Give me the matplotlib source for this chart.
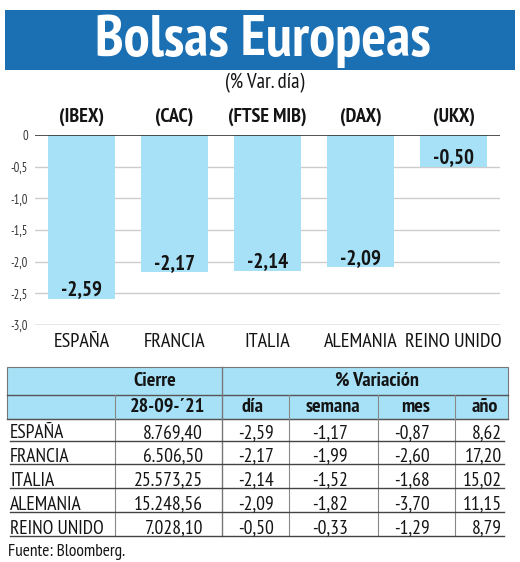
import matplotlib
matplotlib.use('Agg')
import matplotlib.pyplot as plt
from matplotlib.patches import Rectangle

# - Datos del gráfico (variación diaria %)
paises = ['ESPAÑA', 'FRANCIA', 'ITALIA', 'ALEMANIA', 'REINO UNIDO']
indices = ['(IBEX)', '(CAC)', '(FTSE MIB)', '(DAX)', '(UKX)']
var_dia = [-2.59, -2.17, -2.14, -2.09, -0.50]

# - Datos de la tabla
cierre = ['8.769,40', '6.506,50', '25.573,25', '15.248,56', '7.028,10']
var_semana = [-1.17, -1.99, -1.52, -1.82, -0.33]
var_mes = [-0.87, -2.60, -1.68, -3.70, -1.29]
var_anio = [8.62, 17.20, 15.02, 11.15, 8.79]

yticks = [0, -0.5, -1.0, -1.5, -2.0, -2.5, -3.0]

AZUL = '#1b6fb3'
CELESTE = '#a6e1f7'
TINTA = '#141414'

# - Fuente estrecha (tipo Myriad Condensed)
plt.rcParams['font.family'] = ['PT Sans Narrow', 'DejaVu Sans']


def coma(v, dec=2):
    return f'{v:.{dec}f}'.replace('.', ',')


W, H = 520, 562
fig = plt.figure(figsize=(W / 100, H / 100), dpi=100)

# - Capa de fondo en píxeles para cabecera y tabla
bg = fig.add_axes([0, 0, 1, 1])
bg.set_xlim(0, W)
bg.set_ylim(H, 0)
bg.axis('off')

bg.add_patch(Rectangle((5, 10), 510, 60, color=AZUL, lw=0))
bg.text(263, 41, 'Bolsas Europeas', color='white', fontsize=42, fontweight='bold',
        ha='center', va='center')
bg.text(265, 83, '(% Var. día)', fontsize=15, color=TINTA, ha='center', va='center')

# - Gráfico de barras
ax = fig.add_axes([35 / W, 1 - 325 / H, 465 / W, 190 / H])
x = list(range(len(paises)))
ax.bar(x, var_dia, width=0.72, color=CELESTE, zorder=2)
ax.set_xlim(-0.5, 4.5)
ax.set_ylim(-3.0, 0)
ax.set_yticks(yticks)
ax.set_yticklabels([coma(v, 1) if v != 0 else '0' for v in yticks], fontsize=9, color='#333333')
ax.set_xticks(x)
ax.set_xticklabels(paises, fontsize=14.5, color=TINTA)
ax.tick_params(axis='both', length=0)
ax.tick_params(axis='x', pad=6)
ax.tick_params(axis='y', pad=5)
for s in ['left', 'right', 'top', 'bottom']:
    ax.spines[s].set_visible(False)
for v in yticks:
    if v == 0:
        ax.axhline(v, color='#333333', lw=1.2, zorder=3)
    elif v == -3.0:
        ax.axhline(v, color='#888888', lw=1, zorder=1)
    else:
        ax.axhline(v, color='#cccccc', lw=1, zorder=1)

for i, v in enumerate(var_dia):
    ax.annotate(coma(v), (i, v), xytext=(0, 6.5), textcoords='offset points',
                ha='center', va='center', fontsize=15, fontweight='bold', color=TINTA, zorder=4)
    ax.annotate(indices[i], (i, 0), xytext=(0, 13), textcoords='offset points',
                ha='center', va='center', fontsize=14.5, fontweight='bold', color=TINTA,
                annotation_clip=False)

# - Tabla
bg.add_patch(Rectangle((7, 367), 501, 52, facecolor=CELESTE, edgecolor='#777777', lw=0.8))
bg.plot([7, 508], [395, 395], color='#555555', lw=1)
bg.plot([7, 508], [419, 419], color='#555555', lw=1)
bg.plot([222, 222], [367, 536], color='#777777', lw=1)
for xv in [115, 289, 378, 455]:
    bg.plot([xv, xv], [395, 536], color='#888888', lw=0.8)

bg.text(155, 381, 'Cierre', fontsize=14.5, fontweight='bold', ha='center', va='center', color=TINTA)
bg.text(377, 381, '% Variación', fontsize=14.5, fontweight='bold', ha='center', va='center',
        color=TINTA)
for xc, t in zip([167, 252, 333, 416, 485], ['28-09-´21', 'día', 'semana', 'mes', 'año']):
    bg.text(xc, 407, t, fontsize=14.5, fontweight='bold', ha='center', va='center', color=TINTA)

lineas = [441, 464, 488, 512, 536]
columnas = [cierre,
            [coma(v) for v in var_dia],
            [coma(v) for v in var_semana],
            [coma(v) for v in var_mes],
            [coma(v) for v in var_anio]]
x_der = [203, 274, 348, 430, 502]
for i, yb in enumerate(lineas):
    yt = yb - 2.5
    bg.text(10, yt, paises[i], fontsize=14, ha='left', va='baseline', color=TINTA)
    for xd, col in zip(x_der, columnas):
        bg.text(xd, yt, col[i], fontsize=14, ha='right', va='baseline', color=TINTA)
    bg.plot([10, 504], [yb, yb], color='#444444', lw=1)

bg.text(8, 552, 'Fuente: Bloomberg.', fontsize=12.5, ha='left', va='center', color=TINTA)

fig.savefig('out.png', dpi=100)
